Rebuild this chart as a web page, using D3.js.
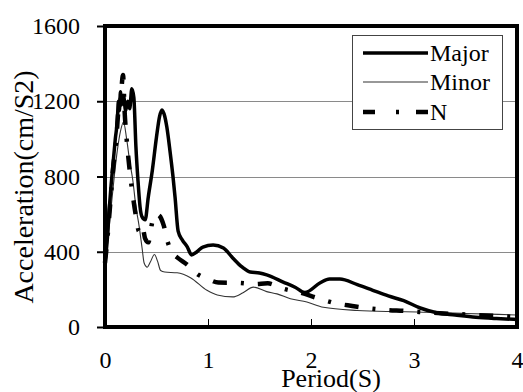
<!DOCTYPE html>
<html>
<head>
<meta charset="utf-8">
<script src="https://cdn.jsdelivr.net/npm/d3@7"></script>
<style>
  html, body { margin: 0; padding: 0; background: #fff; }
  svg { display: block; }
</style>
</head>
<body>
<svg id="chart" width="523" height="392"></svg>
<script>
// Axis ticks
const xTicks = [0, 1, 2, 3, 4];
const yTicks = [0, 400, 800, 1200, 1600];
const seriesNames = ["Major", "Minor", "N"];

// Response spectra: period (s) and spectral acceleration (cm/s²)
const periodMajor = [0, 0.02, 0.04, 0.06, 0.08, 0.1, 0.12, 0.13, 0.14, 0.15, 0.16, 0.18, 0.2, 0.22, 0.24, 0.26,
  0.28, 0.3, 0.32, 0.34, 0.36, 0.39, 0.42, 0.46, 0.5, 0.53, 0.553, 0.58, 0.6, 0.63, 0.66, 0.68, 0.71, 0.75,
  0.8, 0.84, 0.89, 0.95, 1.05, 1.15, 1.24, 1.33, 1.41, 1.5, 1.57, 1.73, 1.85, 1.94, 2.09, 2.18, 2.28, 2.45,
  2.6, 2.75, 2.9, 3.06, 3.22, 3.4, 3.6, 3.8, 4.0];
const accelMajor = [350, 450, 620, 760, 880, 1000, 1100, 1200, 1150, 1250, 1180, 1230, 1150, 1200, 1160, 1266,
  1220, 960, 780, 640, 585, 570, 690, 835, 1010, 1120, 1154, 1120, 1064, 940, 800, 691, 510, 463,
  425, 383, 399, 425, 436, 420, 367, 319, 292, 287, 277, 239, 210, 183, 235, 255, 255, 225,
  195, 165, 140, 101, 76, 64, 52, 45, 40];

const periodMinor = [0, 0.03, 0.06, 0.09, 0.12, 0.15, 0.18, 0.21, 0.24, 0.27, 0.3, 0.33, 0.36, 0.38, 0.41,
  0.44, 0.48, 0.51, 0.54, 0.58, 0.7, 0.83, 0.99, 1.09, 1.24, 1.34, 1.44, 1.57, 1.67, 1.8, 1.96, 2.12,
  2.45, 2.8, 3.03, 3.5, 4.0];
const accelMinor = [330, 470, 640, 800, 940, 1040, 1090, 1000, 880, 780, 640, 540, 420, 340, 318,
  345, 385, 350, 300, 292, 288, 262, 195, 170, 160, 182, 212, 188, 176, 150, 133, 105,
  88, 82, 80, 72, 64];

const periodN = [0, 0.02, 0.05, 0.08, 0.11, 0.13, 0.15, 0.175, 0.19, 0.21, 0.24, 0.27, 0.3, 0.33, 0.36, 0.39,
  0.42, 0.46, 0.49, 0.53, 0.57, 0.61, 0.66, 0.7, 0.8, 0.9, 1.0, 1.1, 1.3, 1.45, 1.58, 1.72, 1.9, 2.06,
  2.25, 2.4, 2.55, 2.75, 2.9, 3.05, 3.3, 3.6, 4.0];
const accelN = [340, 450, 650, 850, 1000, 1150, 1200, 1340, 1150, 1000, 830, 700, 590, 510, 540, 470,
  450, 560, 600, 590, 540, 450, 390, 370, 330, 280, 255, 236, 234, 228, 232, 205, 182, 154,
  125, 112, 100, 90, 86, 80, 72, 64, 53];

const FONT = '"Liberation Serif"';
const svg = d3.select("#chart");

const x = d3.scaleLinear().domain([0, 4]).range([105, 517]);
const y = d3.scaleLinear().domain([0, 1600]).range([327, 26]);

// Horizontal gridlines
svg.append("g")
  .selectAll("line")
  .data(yTicks.filter(v => v > 0 && v < 1600))
  .join("line")
  .attr("x1", x(0)).attr("x2", x(4))
  .attr("y1", d => Math.round(y(d)) + 0.5)
  .attr("y2", d => Math.round(y(d)) + 0.5)
  .attr("stroke", "#8a8a8a")
  .attr("stroke-width", 1);

// Y axis (outward ticks)
const yAxis = svg.append("g")
  .attr("transform", `translate(${x(0)},0)`)
  .call(d3.axisLeft(y).tickValues(yTicks).tickSize(8).tickPadding(17).tickFormat(d3.format("d")));
yAxis.select(".domain").remove();
yAxis.selectAll(".tick line").attr("stroke", "#000").attr("stroke-width", 2);
yAxis.selectAll(".tick text")
  .style("font-family", FONT)
  .style("font-size", "24px")
  .attr("fill", "#000");

// X axis (inward ticks)
const xAxis = svg.append("g")
  .attr("transform", `translate(0,${y(0)})`)
  .call(d3.axisBottom(x).tickValues(xTicks).tickSizeInner(-8).tickSizeOuter(0).tickPadding(24).tickFormat(d3.format("d")));
xAxis.select(".domain").remove();
xAxis.selectAll(".tick line").attr("stroke", "#000").attr("stroke-width", 1);
xAxis.selectAll(".tick text")
  .style("font-family", FONT)
  .style("font-size", "24px")
  .attr("fill", "#000");

// Spectra
const line = d3.line()
  .x(d => x(d[0]))
  .y(d => y(d[1]))
  .curve(d3.curveMonotoneX);

const zip = (ts, as) => ts.map((t, i) => [t, as[i]]);

const styles = {
  Major: { stroke: "#000", width: 3.5, dash: null },
  Minor: { stroke: "#333", width: 1.1, dash: null },
  N:     { stroke: "#000", width: 4.5, dash: "14 14 3 14" }
};

const seriesData = {
  Minor: zip(periodMinor, accelMinor),
  N: zip(periodN, accelN),
  Major: zip(periodMajor, accelMajor)
};

["Minor", "N", "Major"].forEach(name => {
  const s = styles[name];
  svg.append("path")
    .datum(seriesData[name])
    .attr("d", line)
    .attr("fill", "none")
    .attr("stroke", s.stroke)
    .attr("stroke-width", s.width)
    .attr("stroke-linejoin", "round")
    .attr("stroke-dasharray", s.dash);
});

// Plot frame
svg.append("rect")
  .attr("x", x(0)).attr("y", y(1600))
  .attr("width", x(4) - x(0)).attr("height", y(0) - y(1600))
  .attr("fill", "none")
  .attr("stroke", "#000")
  .attr("stroke-width", 4);

// Axis titles
svg.append("text")
  .attr("transform", "translate(33,187) rotate(-90)")
  .attr("text-anchor", "middle")
  .style("font-family", FONT)
  .style("font-size", "28px")
  .text("Acceleration(cm/S2)");

svg.append("text")
  .attr("x", 331).attr("y", 387)
  .attr("text-anchor", "middle")
  .style("font-family", FONT)
  .style("font-size", "26px")
  .text("Period(S)");

// Legend
const legend = svg.append("g");
legend.append("rect")
  .attr("x", 352.5).attr("y", 35.5)
  .attr("width", 150).attr("height", 94)
  .attr("fill", "#fff")
  .attr("stroke", "#444")
  .attr("stroke-width", 1);

const legendY = { Major: 53, Minor: 82, N: 112 };
seriesNames.forEach(name => {
  const s = styles[name];
  legend.append("line")
    .attr("x1", 363).attr("x2", 428)
    .attr("y1", legendY[name]).attr("y2", legendY[name])
    .attr("stroke", s.stroke)
    .attr("stroke-width", s.width)
    .attr("stroke-dasharray", name === "N" ? "12 21 3 17 12" : null);
  legend.append("text")
    .attr("x", 430).attr("y", legendY[name] + 8)
    .style("font-family", FONT)
    .style("font-size", "24px")
    .text(name);
});
</script>
</body>
</html>
